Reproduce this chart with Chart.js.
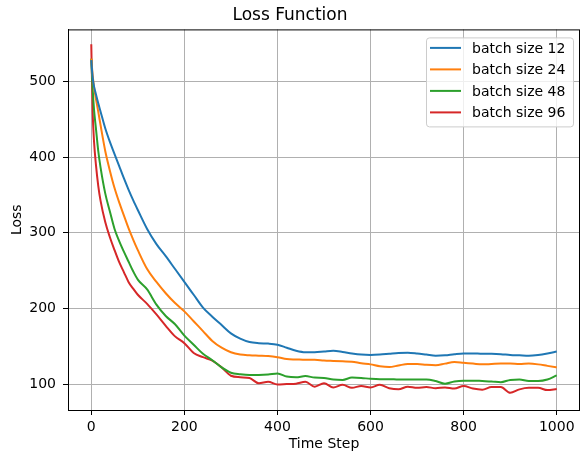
<!DOCTYPE html>
<html>
<head>
<title>Loss Function</title>
<script src="https://cdn.jsdelivr.net/npm/chart.js@4/dist/chart.umd.min.js"></script>
<style>
body { margin: 0; background: #fff; }
</style>
</head>
<body>
<canvas id="loss" width="580" height="454"></canvas>

<script>
// time steps (x) shared by every series
var steps = [0, 3, 6, 10, 15, 20, 30, 40, 50, 60, 70, 80, 90, 100,
  120, 140, 160, 180, 200, 220, 240, 260, 280, 300,
  320, 340, 360, 380, 400, 420, 440, 460, 480, 500,
  520, 540, 560, 580, 600, 620, 640, 660, 680, 700,
  720, 740, 760, 780, 800, 820, 840, 860, 880, 900,
  920, 940, 960, 980, 1000];

var loss12 = [528, 505, 493, 483, 471, 460, 438, 420, 404, 388, 372, 357, 343, 330,
  305, 285, 269, 252, 235, 218, 201, 189, 178, 167,
  160, 155.5, 154, 153.5, 152, 148, 144, 142, 142, 143,
  144, 142.5, 140.5, 139, 138.5, 139, 140, 141, 141.5, 140.5,
  139, 137.5, 138, 139.5, 140.5, 140.5, 140, 140, 139.5, 138.5,
  138, 137.5, 138.5, 140.5, 143];

var loss24 = [530, 508, 492, 477, 460, 442, 408, 382, 359, 340, 323, 306, 291, 277,
  252, 235, 220, 207, 196, 183, 170, 157, 148, 142,
  139, 138, 137.5, 137, 135.5, 133, 132.5, 132, 132, 131,
  130.5, 130, 129.5, 127.5, 126, 123.5, 122.5, 124.5, 126.5, 126.5,
  125.5, 125, 127, 129, 128, 127, 126, 126.5, 127, 127,
  126.5, 127, 126, 124, 122];

var loss48 = [530, 490, 462, 438, 408, 386, 352, 328, 305, 289, 275, 262, 249, 238,
  225, 205, 190, 179, 164, 152, 140, 131.5, 122, 115,
  113, 112, 112, 112.5, 114, 110, 109, 110.5, 108.5, 108,
  106, 105.5, 108.5, 108, 107, 106.5, 106.5, 106, 106, 106,
  106, 104, 100.5, 103.5, 104.5, 104.5, 104, 103.5, 102.5, 105.5,
  106, 104, 104, 106, 111.5];

var loss96 = [549, 460, 420, 390, 362, 342, 314, 294, 277, 261, 248, 235, 226, 218,
  206, 192, 177, 163, 154, 141, 135.5, 131, 122, 111,
  109, 108, 101, 103, 99.5, 100, 100.5, 103, 96.5, 101,
  95.5, 99, 95, 97.5, 95.5, 99, 94.5, 93, 96.5, 95,
  96, 94.5, 95.5, 94, 97.5, 94, 92.5, 96, 96, 88.5,
  93, 95, 95, 92, 93.5];

var labels = ['batch size 12', 'batch size 24', 'batch size 48', 'batch size 96'];
var colors = ['#1f77b4', '#ff7f0e', '#2ca02c', '#d62728'];
var series = [loss12, loss24, loss48, loss96];

var xTicks = [0, 200, 400, 600, 800, 1000];
var yTicks = [100, 200, 300, 400, 500];

Chart.defaults.font.family = "'DejaVu Sans', sans-serif";
Chart.defaults.color = '#000';

function points(values) {
  return values.map(function (v, i) { return { x: steps[i], y: v }; });
}

function plainLabel(v) { return String(v); }

// matplotlib style frame and legend inside the axes
var framePlugin = {
  id: 'frame',
  afterDraw: function (chart) {
    var ctx = chart.ctx, a = chart.chartArea;
    ctx.save();
    ctx.strokeStyle = '#000';
    ctx.lineWidth = 1;
    ctx.strokeRect(a.left + 0.5, a.top + 0.5, a.right - a.left - 1, a.bottom - a.top);

    // legend box
    var w = 147, h = 89;
    var bx = a.right - 7 - w, by = a.top + 8;
    ctx.beginPath();
    ctx.roundRect(bx + 0.5, by + 0.5, w, h, 3);
    ctx.fillStyle = 'rgba(255,255,255,0.8)';
    ctx.fill();
    ctx.strokeStyle = '#cccccc';
    ctx.stroke();

    ctx.font = "14px 'DejaVu Sans'";
    ctx.textBaseline = 'middle';
    ctx.textAlign = 'left';
    chart.data.datasets.forEach(function (ds, i) {
      var yy = by + 10.5 + i * 21.5;
      ctx.beginPath();
      ctx.strokeStyle = ds.borderColor;
      ctx.lineWidth = 2;
      ctx.moveTo(bx + 4, yy);
      ctx.lineTo(bx + 35, yy);
      ctx.stroke();
      ctx.fillStyle = '#000';
      ctx.fillText(ds.label, bx + 46, yy + 1);
    });
    ctx.restore();
  }
};

var ctx = document.getElementById('loss').getContext('2d');
var chart = new Chart(ctx, {
  type: 'line',
  data: {
    datasets: series.map(function (s, i) {
      return {
        label: labels[i],
        data: points(s),
        borderColor: colors[i],
        backgroundColor: colors[i],
        borderWidth: 2,
        pointRadius: 0,
        cubicInterpolationMode: 'monotone',
        fill: false
      };
    })
  },
  options: {
    responsive: false,
    animation: false,
    layout: { padding: { left: 0, right: 0, top: 0, bottom: 0 } },
    plugins: {
      legend: { display: false },
      tooltip: { enabled: false },
      title: {
        display: true,
        text: 'Loss Function',
        color: '#000',
        font: { size: 17, weight: 'normal' },
        padding: { top: 5, bottom: 4 }
      }
    },
    scales: {
      x: {
        type: 'linear',
        min: -50,
        max: 1050,
        afterBuildTicks: function (axis) {
          axis.ticks = xTicks.map(function (v) { return { value: v }; });
        },
        afterFit: function (scale) { scale.height = 44; },
        ticks: { font: { size: 14 }, color: '#000', padding: 4, maxRotation: 0, callback: plainLabel },
        grid: { color: '#b0b0b0', lineWidth: 1, tickColor: '#000', tickLength: 5 },
        border: { color: '#000', width: 1 },
        title: { display: true, text: 'Time Step', color: '#000', font: { size: 14 }, padding: { top: 0, bottom: 1 } }
      },
      y: {
        min: 65.7,
        max: 568.7,
        afterBuildTicks: function (axis) {
          axis.ticks = yTicks.map(function (v) { return { value: v }; });
        },
        afterFit: function (scale) { scale.width = 68; },
        ticks: { font: { size: 14 }, color: '#000', padding: 7, callback: plainLabel },
        grid: { color: '#b0b0b0', lineWidth: 1, tickColor: '#000', tickLength: 5 },
        border: { color: '#000', width: 1 },
        title: { display: true, text: 'Loss', color: '#000', font: { size: 14 }, padding: { top: 9, bottom: 0 } }
      }
    }
  },
  plugins: [framePlugin]
});
</script>
</body>
</html>
